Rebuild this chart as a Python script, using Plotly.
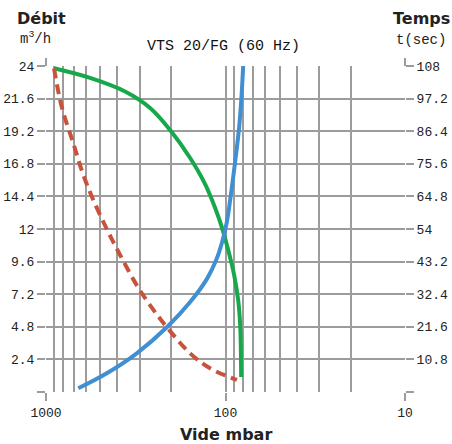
import plotly.graph_objects as go

# Green: flow rate (m3/h) vs vacuum (mbar)
green_x = [902, 568.5, 362.6, 263.1, 203.5, 157.4, 129.9, 114.2, 104.4, 96.6, 89.5, 85.0, 82.8, 81.8]
green_y = [23.83, 23.12, 22.12, 20.91, 19.29, 17.23, 15.31, 13.55, 12.07, 10.45, 8.61, 6.77, 4.86, 1.10]

# Blue: time (s) vs vacuum (mbar)
blue_x = [660.6, 458.7, 312.1, 211.5, 157.4, 127.1, 112.7, 104.4, 98.3, 94.2, 88.4, 83.9, 81.3, 79.7]
blue_y = [1.23, 6.2, 12.82, 21.53, 29.8, 37.4, 43.7, 49.7, 56.3, 63.6, 76.2, 87.8, 98.7, 108]

# Red dashed: time (s) vs vacuum (mbar)
red_x = [902, 817.6, 704.5, 619.4, 544.9, 458.7, 386.7, 305.7, 252.2, 212.3, 157.4, 121.8, 86.4]
red_y = [107.2, 94.5, 82.4, 71.9, 63.6, 54.0, 45.4, 34.5, 27.2, 21.5, 12.8, 7.85, 3.98]

x_ticks = [1000, 100, 10]
x_labels = ["1000", "100", "10"]
left_ticks = [0, 2.4, 4.8, 7.2, 9.6, 12, 14.4, 16.8, 19.2, 21.6, 24]
left_labels = ["", "2.4", "4.8", "7.2", "9.6", "12", "14.4", "16.8", "19.2", "21.6", "24"]
right_ticks = [0, 10.8, 21.6, 32.4, 43.2, 54, 64.8, 75.6, 86.4, 97.2, 108]
right_labels = ["", "10.8", "21.6", "32.4", "43.2", "54", "64.8", "75.6", "86.4", "97.2", "108"]

GRID = "#9c9c9c"
MONO = "Liberation Mono"
BOLD = "DejaVu Sans"
TXT = "#222"

L, R, T, B = 46, 47.3, 66, 52
PW, PH = 452 - L - R, 444 - T - B


def px(xp):
    return (xp - L) / PW


def py(yp):
    return (444 - B - yp) / PH


fig = go.Figure()
fig.add_trace(go.Scatter(x=green_x, y=green_y, mode="lines",
                         line=dict(color="#17a84b", width=4, shape="spline", smoothing=1),
                         showlegend=False, yaxis="y"))
fig.add_trace(go.Scatter(x=blue_x, y=blue_y, mode="lines",
                         line=dict(color="#3f8fd2", width=4, shape="spline", smoothing=1),
                         showlegend=False, yaxis="y2"))
fig.add_trace(go.Scatter(x=red_x, y=red_y, mode="lines",
                         line=dict(color="#c9523c", width=4, dash="10px,6px", shape="spline", smoothing=1),
                         showlegend=False, yaxis="y2"))

tickfont = dict(family=MONO, size=13, color=TXT)
ext = 8 / PH

fig.update_layout(
    width=452, height=444,
    margin=dict(l=L, r=R, t=T, b=B),
    plot_bgcolor="white", paper_bgcolor="white",
    xaxis=dict(type="log", range=[3, 1], tickvals=x_ticks, ticktext=x_labels,
               showgrid=True, gridcolor=GRID, gridwidth=2,
               minor=dict(dtick="D1", showgrid=True, gridcolor=GRID, gridwidth=2, ticks=""),
               ticks="outside", ticklen=8, tickwidth=2, tickcolor=GRID,
               tickfont=tickfont, automargin=False,
               zeroline=False, showline=False),
    yaxis=dict(range=[0, 24], tickvals=left_ticks, ticktext=left_labels,
               showgrid=True, gridcolor=GRID, gridwidth=2,
               ticks="outside", ticklen=8, tickwidth=2, tickcolor=GRID,
               tickfont=tickfont, automargin=False,
               zeroline=False, showline=False),
    yaxis2=dict(range=[0, 108], overlaying="y", side="right", tickvals=right_ticks, ticktext=right_labels,
                showgrid=False, ticks="outside", ticklen=8, tickwidth=2, tickcolor=GRID,
                tickfont=tickfont, automargin=False,
                zeroline=False, showline=False),
    shapes=[
        dict(type="line", xref="paper", yref="paper", x0=0, x1=0, y0=1, y1=1 + ext,
             line=dict(color=GRID, width=2)),
        dict(type="line", xref="paper", yref="paper", x0=1, x1=1, y0=1, y1=1 + ext,
             line=dict(color=GRID, width=2)),
    ],
    annotations=[
        dict(text="VTS 20/FG (60 Hz)", x=px(223.5), y=py(47), xref="paper", yref="paper",
             xanchor="center", yanchor="middle",
             showarrow=False, font=dict(family=MONO, size=15, color="#111")),
        dict(text="<b>Débit</b>", x=px(42), y=py(19), xref="paper", yref="paper",
             xanchor="center", yanchor="middle",
             showarrow=False, font=dict(family=BOLD, size=16, color=TXT)),
        dict(text="m<sup>3</sup>/h", x=px(36), y=py(38), xref="paper", yref="paper",
             xanchor="center", yanchor="middle",
             showarrow=False, font=dict(family=MONO, size=14, color=TXT)),
        dict(text="<b>Temps</b>", x=px(421), y=py(19), xref="paper", yref="paper",
             xanchor="center", yanchor="middle",
             showarrow=False, font=dict(family=BOLD, size=16, color=TXT)),
        dict(text="t(sec)", x=px(421), y=py(40), xref="paper", yref="paper",
             xanchor="center", yanchor="middle",
             showarrow=False, font=dict(family=MONO, size=14, color=TXT)),
        dict(text="<b>Vide mbar</b>", x=px(225.5), y=py(435), xref="paper", yref="paper",
             xanchor="center", yanchor="middle",
             showarrow=False, font=dict(family=BOLD, size=16, color=TXT)),
    ],
)

fig.write_html("out.html")
